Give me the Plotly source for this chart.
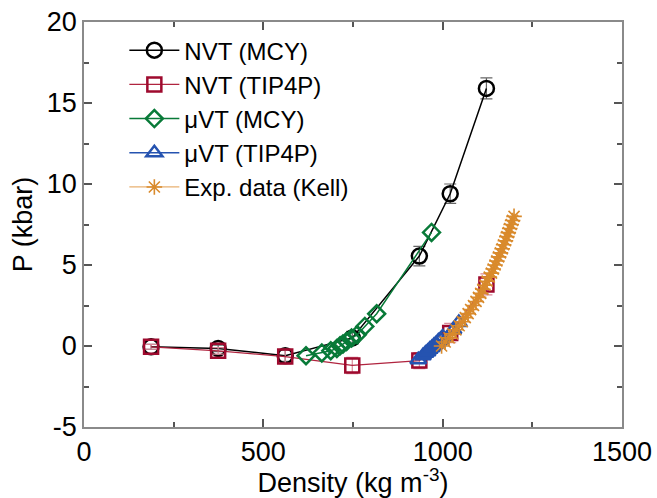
import plotly.graph_objects as go

# NVT (MCY)
nvt_mcy_rho = [187, 374, 561, 748, 935, 1021, 1122]
nvt_mcy_p = [-0.05, -0.15, -0.6, 0.5, 5.55, 9.4, 15.9]
nvt_mcy_err = [0.15, 0.2, 0.35, 0.4, 0.6, 0.6, 0.65]

# NVT (TIP4P)
nvt_tip_rho = [187, 374, 561, 748, 935, 1021, 1122]
nvt_tip_p = [-0.05, -0.3, -0.65, -1.2, -0.9, 0.8, 3.8]
nvt_tip_err = [0.15, 0.2, 0.45, 0.5, 0.5, 0.6, 0.65]

# muVT (MCY)
uvt_mcy_rho = [619, 663, 688, 705, 714, 722, 732, 746, 762, 783, 816, 969]
uvt_mcy_p = [-0.6, -0.43, -0.29, -0.15, 0.02, 0.12, 0.28, 0.49, 0.7, 1.21, 1.99, 7.01]

# muVT (TIP4P)
uvt_tip_rho = [932, 945, 952, 958, 964, 970, 976, 982, 988, 994, 1000, 1030, 1045]
uvt_tip_p = [-0.85, -0.6, -0.45, -0.35, -0.2, -0.1, 0.05, 0.15, 0.3, 0.4, 0.55, 1.0, 1.45]

# Exp. data (Kell)
kell_rho = [997, 1007, 1018, 1028, 1037, 1046, 1055, 1063, 1071, 1078, 1086, 1093,
            1100, 1106, 1112, 1118, 1124, 1130, 1136, 1141, 1146, 1151, 1156, 1161,
            1166, 1170, 1175, 1179, 1183, 1187, 1191, 1195, 1199]
kell_p = [0.0, 0.25, 0.5, 0.75, 1.0, 1.25, 1.5, 1.75, 2.0, 2.25, 2.5, 2.75,
          3.0, 3.25, 3.5, 3.75, 4.0, 4.25, 4.5, 4.75, 5.0, 5.25, 5.5, 5.75,
          6.0, 6.25, 6.5, 6.75, 7.0, 7.25, 7.5, 7.75, 8.0]

FONT = "Liberation Sans, Arial, sans-serif"
BLACK = "#000000"
RED = "#9e0a2e"
GREEN = "#087a38"
BLUE = "#2553b0"
ORANGE = "#d98a2c"

fig = go.Figure()

fig.add_trace(go.Scatter(
    x=nvt_mcy_rho, y=nvt_mcy_p, mode="lines+markers", name="NVT (MCY)",
    line=dict(color=BLACK, width=1.5),
    marker=dict(symbol="circle-open", size=15, color=BLACK, line=dict(width=2.5)),
    error_y=dict(type="data", array=nvt_mcy_err, color="#666666", thickness=1.2, width=6),
))
fig.add_trace(go.Scatter(
    x=nvt_tip_rho, y=nvt_tip_p, mode="lines+markers", name="NVT (TIP4P)",
    line=dict(color="#b0243f", width=1.3),
    marker=dict(symbol="square-open", size=14, color=RED, line=dict(width=2.5)),
    error_y=dict(type="data", array=nvt_tip_err, color="#d9889a", thickness=1.2, width=6),
))
fig.add_trace(go.Scatter(
    x=uvt_mcy_rho, y=uvt_mcy_p, mode="lines+markers", name="μVT (MCY)",
    line=dict(color=GREEN, width=1.5),
    marker=dict(symbol="diamond-open", size=13, color=GREEN, line=dict(width=2.5)),
))
fig.add_trace(go.Scatter(
    x=uvt_tip_rho, y=uvt_tip_p, mode="lines+markers", name="μVT (TIP4P)",
    line=dict(color=BLUE, width=1.5),
    marker=dict(symbol="triangle-up-open", size=14, color=BLUE, line=dict(width=2.5)),
))
fig.add_trace(go.Scatter(
    x=kell_rho, y=kell_p, mode="lines+markers", name="Exp. data (Kell)",
    line=dict(color="#e8b070", width=1.2),
    marker=dict(symbol="asterisk-open", size=13, color=ORANGE, line=dict(width=1.6, color=ORANGE)),
))

axis_common = dict(
    showgrid=False, zeroline=False, showline=True, linecolor="#8a8a8a", linewidth=1.5,
    mirror="ticks", ticks="inside", ticklen=8, tickwidth=1.5, tickcolor="#555555",
    tickfont=dict(family=FONT, size=27, color="black"), automargin=False,
)

fig.update_xaxes(
    range=[0, 1500], tickmode="array", tickvals=[0, 500, 1000, 1500],
    ticktext=["0", "500", "1000", "1500"],
    minor=dict(ticks="inside", dtick=250, tick0=0, ticklen=5, tickwidth=1.5, tickcolor="#555555"),
    title=dict(text="Density (kg m<sup>-3</sup>)", font=dict(family=FONT, size=27, color="black"), standoff=6),
    **axis_common,
)
fig.update_yaxes(
    range=[-5, 20], tickmode="array", tickvals=[-5, 0, 5, 10, 15, 20],
    ticktext=["-5", "0", "5", "10", "15", "20"],
    minor=dict(ticks="inside", dtick=2.5, tick0=0, ticklen=5, tickwidth=1.5, tickcolor="#555555"),
    title=dict(text="P (kbar)", font=dict(family=FONT, size=27, color="black"), standoff=6),
    **axis_common,
)

fig.update_layout(
    width=657, height=498,
    margin=dict(l=84, r=35, t=22, b=71),
    plot_bgcolor="white", paper_bgcolor="white",
    font=dict(family=FONT),
    showlegend=True,
    legend=dict(
        x=0.075, y=0.985, xanchor="left", yanchor="top",
        font=dict(family=FONT, size=24, color="black"),
        bgcolor="rgba(0,0,0,0)", itemwidth=50, tracegroupgap=0,
    ),
)

fig.write_html("out.html")
